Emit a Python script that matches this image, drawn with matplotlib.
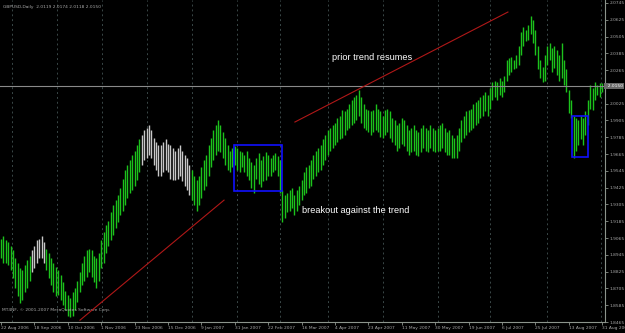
import numpy as np
import matplotlib.pyplot as plt

# daily GBPUSD bars (high / low per bar)
high = [1.906, 1.908, 1.905, 1.904, 1.901, 1.898, 1.892, 1.889, 1.885, 1.884, 1.887, 1.891, 1.894,
        1.898, 1.901, 1.905, 1.906, 1.908, 1.904,
        1.899, 1.896, 1.892, 1.889, 1.886,
        1.884, 1.880, 1.875, 1.869, 1.866,
        1.864, 1.868, 1.871, 1.876, 1.882,
        1.889, 1.894, 1.898, 1.899, 1.898, 1.894, 1.892, 1.896,
        1.905, 1.911, 1.916, 1.919, 1.925, 1.930, 1.934, 1.937, 1.942,
        1.949, 1.955, 1.959, 1.962, 1.966, 1.969, 1.973, 1.977,
        1.980, 1.984, 1.985, 1.987, 1.984, 1.978, 1.975, 1.973,
        1.973, 1.975, 1.977, 1.974, 1.973, 1.971, 1.969, 1.971, 1.973, 1.969, 1.966, 1.964, 1.959,
        1.955, 1.951, 1.948, 1.951, 1.957, 1.962, 1.966, 1.973, 1.978, 1.984, 1.987, 1.991,
        1.987, 1.982, 1.978, 1.973, 1.969, 1.971,
        1.972, 1.971, 1.969, 1.968, 1.966, 1.969, 1.964, 1.961, 1.959,
        1.964, 1.967, 1.962, 1.965, 1.968, 1.966, 1.964, 1.966, 1.967, 1.965, 1.962,
        1.941, 1.937, 1.939, 1.941, 1.942, 1.937, 1.941,
        1.944, 1.948, 1.954, 1.957, 1.959, 1.962, 1.966, 1.969, 1.971, 1.973,
        1.977, 1.980, 1.984, 1.985, 1.987, 1.989, 1.992, 1.994, 1.998, 1.997, 1.999, 2.002, 2.005, 2.007, 2.009, 2.012,
        2.007, 2.002, 1.999, 1.998, 1.997, 1.998, 2.002, 1.999, 1.997, 1.994, 1.998, 1.999,
        1.997, 1.992, 1.991, 1.987, 1.989, 1.992, 1.991, 1.987, 1.984, 1.985, 1.987, 1.984, 1.982, 1.985,
        1.987, 1.985, 1.984, 1.987, 1.985, 1.984, 1.985, 1.987, 1.989, 1.985, 1.982, 1.984, 1.980, 1.978, 1.980,
        1.985, 1.991, 1.994, 1.997, 1.998, 1.999, 2.002, 2.004, 2.005, 2.007, 2.009, 2.011, 2.009, 2.014, 2.018,
        2.019, 2.018, 2.021, 2.019, 2.022,
        2.034, 2.035, 2.036, 2.034, 2.037, 2.044, 2.054, 2.057, 2.055, 2.059, 2.065, 2.062, 2.055, 2.044, 2.034, 2.029,
        2.037, 2.044, 2.046, 2.042, 2.044, 2.041, 2.037, 2.046, 2.034, 2.027, 2.012, 2.005,
        1.994, 1.992, 1.991, 1.994, 1.992, 1.997, 2.005, 2.016, 2.014, 2.018, 2.016, 2.017, 2.017]

low = [1.892, 1.889, 1.889, 1.887, 1.884, 1.878, 1.871, 1.865, 1.860, 1.862, 1.868, 1.871, 1.876,
       1.882, 1.885, 1.889, 1.892, 1.892, 1.889,
       1.884, 1.878, 1.873, 1.868, 1.865,
       1.866, 1.862, 1.859, 1.855, 1.851,
       1.850, 1.851, 1.855, 1.861, 1.868,
       1.873, 1.876, 1.879, 1.882, 1.879, 1.875, 1.871, 1.876,
       1.885, 1.889, 1.896, 1.901, 1.905, 1.909, 1.914, 1.918, 1.923,
       1.926, 1.930, 1.935, 1.939, 1.941, 1.944, 1.948, 1.954,
       1.959, 1.962, 1.964, 1.966, 1.964, 1.959, 1.955, 1.951,
       1.951, 1.954, 1.955, 1.954, 1.949, 1.948, 1.948, 1.949, 1.951, 1.947, 1.944, 1.941, 1.937,
       1.934, 1.930, 1.926, 1.930, 1.935, 1.941, 1.944, 1.951, 1.957, 1.962, 1.966, 1.969,
       1.968, 1.964, 1.959, 1.955, 1.954, 1.957,
       1.959, 1.955, 1.954, 1.957, 1.954, 1.951, 1.948, 1.942, 1.939,
       1.949, 1.945, 1.943, 1.947, 1.948, 1.951, 1.951, 1.954, 1.955, 1.951, 1.939,
       1.918, 1.921, 1.925, 1.926, 1.928, 1.923, 1.926,
       1.930, 1.934, 1.937, 1.939, 1.942, 1.944, 1.949, 1.951, 1.954, 1.955,
       1.959, 1.962, 1.966, 1.969, 1.971, 1.973, 1.975, 1.977, 1.978, 1.980, 1.984, 1.985, 1.987, 1.989, 1.991, 1.994,
       1.989, 1.985, 1.984, 1.982, 1.980, 1.982, 1.984, 1.982, 1.979, 1.978, 1.980, 1.982,
       1.978, 1.975, 1.973, 1.969, 1.971, 1.974, 1.972, 1.969, 1.966, 1.968, 1.969, 1.966, 1.965, 1.968,
       1.971, 1.969, 1.968, 1.971, 1.969, 1.968, 1.969, 1.969, 1.971, 1.968, 1.966, 1.966, 1.964, 1.964, 1.964,
       1.969, 1.975, 1.978, 1.980, 1.982, 1.984, 1.985, 1.987, 1.989, 1.992, 1.994, 1.997, 1.994, 1.999, 2.005,
       2.007, 2.005, 2.009, 2.007, 2.011,
       2.019, 2.023, 2.025, 2.027, 2.028, 2.030, 2.037, 2.044, 2.047, 2.048, 2.052, 2.046, 2.037, 2.027, 2.021, 2.018,
       2.019, 2.030, 2.034, 2.025, 2.028, 2.023, 2.019, 2.021, 2.016, 2.011, 1.996, 1.992,
       1.964, 1.969, 1.973, 1.977, 1.973, 1.980, 1.987, 1.999, 1.998, 2.005, 2.009, 2.007, 2.011]

# runs of bars drawn in white instead of green (first, last bar index)
white_runs = [(13, 18), (59, 79)]

date_labels = ['22 Aug 2006', '18 Sep 2006', '10 Oct 2006', '1 Nov 2006', '23 Nov 2006',
               '15 Dec 2006', '9 Jan 2007', '31 Jan 2007', '22 Feb 2007', '16 Mar 2007',
               '4 Apr 2007', '23 Apr 2007', '11 May 2007', '30 May 2007', '19 Jun 2007',
               '6 Jul 2007', '25 Jul 2007', '13 Aug 2007', '31 Aug 2007']
bars_per_label = 14
month_start_bars = [4.6, 23.5, 42.3, 61.2, 80, 98.9, 117, 137, 160, 183, 205, 229, 251.5]

price_ticks = [2.0745, 2.0625, 2.0505, 2.0385, 2.0265, 2.0025, 1.9905, 1.9785, 1.9665,
               1.9545, 1.9425, 1.9305, 1.9185, 1.9065, 1.8945, 1.8825, 1.8705, 1.8585, 1.8465]
last_price = 2.0150
header = 'GBPUSD,Daily  2.0119 2.0174 2.0118 2.0150'
footer = 'MT4NF, \u00a9 2001-2007 MetaQuotes Software Corp.'

# hand-drawn objects: trend lines (bar, price) and boxes (bar0, bar1, price0, price1)
trend_lines = [((33.1, 93.5), (1.8478, 1.9336)),
               ((123.2, 212.5), (1.9894, 2.0680))]
boxes = [(97.7, 117.8, 1.9400, 1.9729),
         (239.3, 246.0, 1.9644, 1.9937)]
notes = [(138.7, 2.0358, 'prior trend resumes'),
         (126.2, 1.9265, 'breakout against the trend')]

GREEN = '#1cc21c'
WHITE = '#c8c8c8'
AXIS = '#8c948c'
TEXT = '#a8a8a8'
SMALL = 3.2

fig = plt.figure(figsize=(6.25, 3.33), dpi=100, facecolor='black')
ax = fig.add_axes([0, 11 / 333, 605 / 625, 322 / 333], facecolor='black')

n = len(high)
x = np.arange(n)
colors = [GREEN] * n
for a, b in white_runs:
    for i in range(a, b + 1):
        colors[i] = WHITE

ax.set_xlim(-0.42, 253.2)
ax.set_ylim(1.8465, 2.0766)

for xm in month_start_bars:
    ax.axvline(xm, color='#3a4848', lw=0.7, ls=(0, (2, 3)), zorder=0)

ax.vlines(x, low, high, colors=colors, lw=1.0, zorder=2)

ax.axhline(last_price, color='#8a8a8a', lw=0.8, zorder=3)

for (b0, b1), (p0, p1) in trend_lines:
    ax.plot([b0, b1], [p0, p1], color='#b01818', lw=0.8, zorder=4)

for b0, b1, p0, p1 in boxes:
    ax.add_patch(plt.Rectangle((b0, p0), b1 - b0, p1 - p0, fill=False,
                               ec='#1010ff', lw=1.2, zorder=5))

for b, p, s in notes:
    ax.text(b, p, s, color='white', fontsize=6.6, family='Liberation Sans',
            ha='left', va='center', zorder=6)

# axes styling like the terminal
for side in ['left', 'top']:
    ax.spines[side].set_visible(False)
for side in ['right', 'bottom']:
    ax.spines[side].set_color(AXIS)
    ax.spines[side].set_linewidth(0.8)

ax.yaxis.tick_right()
ax.set_yticks(price_ticks)
ax.set_yticklabels([f'{p:.4f}' for p in price_ticks])
ax.tick_params(axis='y', colors=AXIS, labelcolor=TEXT, length=2, width=0.6,
               labelsize=SMALL, pad=1.5)

label_bars = np.arange(len(date_labels)) * bars_per_label
ax.set_xticks(label_bars)
ax.set_xticklabels(date_labels)
ax.tick_params(axis='x', colors=AXIS, labelcolor=TEXT, length=2, width=0.6,
               labelsize=SMALL, pad=1.2)
for t in ax.get_xticklabels():
    t.set_ha('left')

ax.text(1.0, last_price, f'  {last_price:.4f}', transform=ax.get_yaxis_transform(),
        ha='left', va='center', fontsize=SMALL, color='white',
        bbox=dict(boxstyle='square,pad=0.2', fc='#6a6a6a', ec='none'), clip_on=False)

ax.text(0.005, 0.985, header, transform=ax.transAxes, color=TEXT, fontsize=SMALL,
        ha='left', va='top')
ax.text(0.003, 0.03, footer, transform=ax.transAxes, color=TEXT, fontsize=SMALL,
        ha='left', va='bottom')

fig.savefig('out.png', dpi=100, facecolor='black')
